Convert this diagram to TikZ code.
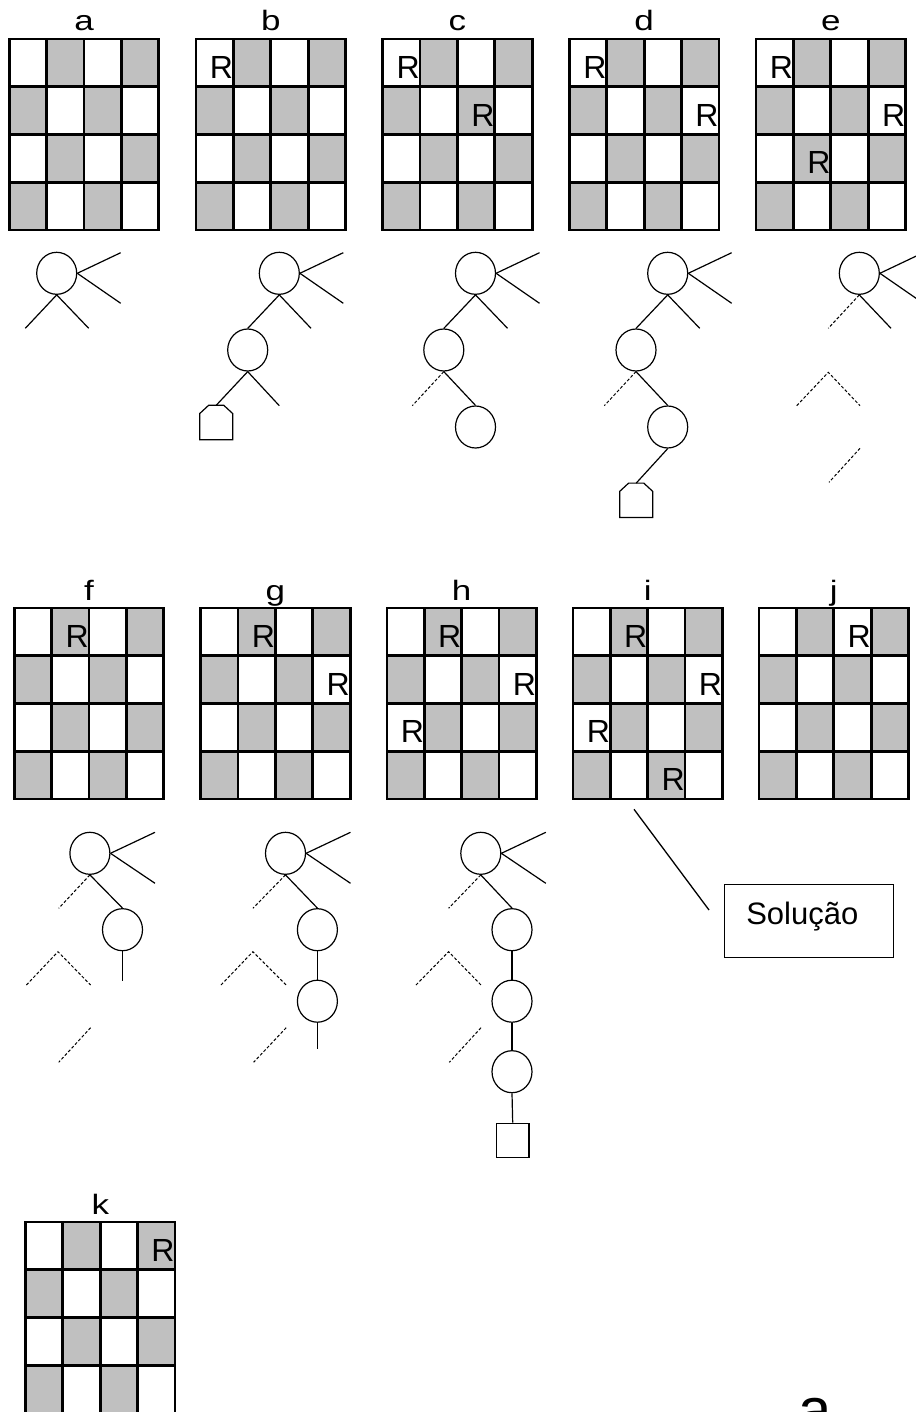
\documentclass[tikz,border=0pt]{standalone}
\usepackage{fontspec}
\setmainfont{Liberation Sans}
\usetikzlibrary{shapes.geometric}
\definecolor{cgray}{RGB}{192,192,192}
\tikzset{
  gridline/.style={line width=1.4pt,black},
  boardframe/.style={draw,line width=1.4pt,minimum width=74.75pt,minimum height=95.5pt,inner sep=0pt},
  boardlabel/.style={anchor=base,inner sep=0pt,font=\fontsize{14pt}{16pt}\selectfont},
  queen/.style={anchor=south east,inner sep=0pt,font=\fontsize{16pt}{18pt}\selectfont},
  tnode/.style={draw,ellipse,line width=0.6pt,minimum width=20pt,minimum height=21pt,inner sep=0pt},
  housebox/.style={rectangle,minimum width=16.15pt,minimum height=16.8pt,inner sep=0pt},
  houseline/.style={line width=0.6pt,line join=miter},
  leafbox/.style={draw,rectangle,line width=0.6pt,minimum width=16.3pt,minimum height=17pt,inner sep=0pt},
  edge/.style={line width=0.6pt},
  pruned/.style={line width=0.5pt,dash pattern=on 1.5pt off 1pt},
  solbox/.style={draw,rectangle,line width=0.65pt,minimum width=84.5pt,minimum height=36.5pt,inner sep=0pt},
}
\newcommand{\qboard}[4]{%
\begin{scope}[shift={(#2,#3)}]
  \foreach \c/\r in {1/0,3/0,0/1,2/1,1/2,3/2,0/3,2/3}
    \fill[cgray] (\c*37.375,\r*47.75) rectangle ++(37.375,47.75);
  \foreach \i in {1,2,3} {
    \draw[gridline] (\i*37.375,0) -- (\i*37.375,191);
    \draw[gridline] (0,\i*47.75) -- (149.5,\i*47.75);
  }
  \node[boardframe] (#1) at (74.75,95.5) {};
  \node[boardlabel] (#1-label) at (74.75,-8) {\scalebox{1.25}[1]{#4}};
\end{scope}}
\newcommand{\queens}[4]{%
\begin{scope}[shift={(#2,#3)}]
  \foreach \c/\r in {#4}
    \node[queen] (#1-q\c\r) at ({(\c+1)*37.375},{(\r+1)*47.75-8}) {R};
\end{scope}}
\newcommand{\housepath}[1]{%
  \draw[houseline] (#1.south west) -- (#1.south east)
    -- ([shift={(0,8.3)}]#1.north east) -- ([shift={(-9,0)}]#1.north east)
    -- ([shift={(9,0)}]#1.north west) -- ([shift={(0,8.3)}]#1.north west) -- cycle;}
\begin{document}
\begin{tikzpicture}[x=0.5pt,y=-0.5pt]
\useasboundingbox (0,0) rectangle (915,1412);
\fill[white] (0,0) rectangle (915,1412);
% ---------- row 1 boards
\qboard{ba}{9.3}{39}{a}
\qboard{bb}{196}{39}{b}
\queens{bb}{196}{39}{0/0}
\qboard{bc}{382.7}{39}{c}
\queens{bc}{382.7}{39}{0/0,2/1}
\qboard{bd}{569.4}{39}{d}
\queens{bd}{569.4}{39}{0/0,3/1}
\qboard{be}{756}{39}{e}
\queens{be}{756}{39}{0/0,3/1,1/2}
% ---------- row 2 boards
\qboard{bf}{14.3}{608}{f}
\queens{bf}{14.3}{608}{1/0}
\qboard{bg}{200.6}{608}{g}
\queens{bg}{200.6}{608}{1/0,3/1}
\qboard{bh}{386.9}{608}{h}
\queens{bh}{386.9}{608}{1/0,3/1,0/2}
\qboard{bi}{572.9}{608}{i}
\queens{bi}{572.9}{608}{1/0,3/1,0/2,2/3}
\qboard{bj}{759}{608}{j}
\queens{bj}{759}{608}{2/0}
% ---------- row 3 board
\qboard{bk}{25.5}{1222}{k}
\queens{bk}{25.5}{1222}{3/0}

% ---------- row 1 trees
% tree a
\node[tnode] (ta) at (56.7,273.3) {};
\coordinate (ta-e1) at (120.7,252.7);
\coordinate (ta-e2) at (120.7,303.3);
\coordinate (ta-sl) at (25.3,328.3);
\coordinate (ta-sr) at (88.7,328.3);
\draw[edge] (ta.east) -- (ta-e1);
\draw[edge] (ta.east) -- (ta-e2);
\draw[edge] (ta.south) -- (ta-sl);
\draw[edge] (ta.south) -- (ta-sr);
% tree b
\node[tnode] (tb) at (279.3,273.3) {};
\node[tnode] (tb1) at (247.7,350) {};
\node[housebox] (tbP) at (216.2,422.5) {};
\housepath{tbP}
\coordinate (tb-e1) at (343.3,252.7);
\coordinate (tb-e2) at (343.3,303.3);
\coordinate (tb-sr) at (311,328.3);
\coordinate (tb1-sr) at (279.3,405.7);
\draw[edge] (tb.east) -- (tb-e1);
\draw[edge] (tb.east) -- (tb-e2);
\draw[edge] (tb.south) -- (tb1.north);
\draw[edge] (tb.south) -- (tb-sr);
\draw[edge] (tb1.south) -- (tbP.north);
\draw[edge] (tb1.south) -- (tb1-sr);
% tree c
\node[tnode] (tc) at (475.5,273.3) {};
\node[tnode] (tc1) at (443.8,350) {};
\node[tnode] (tc2) at (475.5,427) {};
\coordinate (tc-e1) at (539.5,252.7);
\coordinate (tc-e2) at (539.5,303.3);
\coordinate (tc-sr) at (507.5,328.3);
\coordinate (tc1-sl) at (412.3,405.7);
\draw[edge] (tc.east) -- (tc-e1);
\draw[edge] (tc.east) -- (tc-e2);
\draw[edge] (tc.south) -- (tc1.north);
\draw[edge] (tc.south) -- (tc-sr);
\draw[pruned] (tc1.south) -- (tc1-sl);
\draw[edge] (tc1.south) -- (tc2.north);
% tree d
\node[tnode] (td) at (667.7,273.3) {};
\node[tnode] (td1) at (636,350) {};
\node[tnode] (td2) at (667.7,427) {};
\node[housebox] (tdP) at (636.2,500.3) {};
\housepath{tdP}
\coordinate (td-e1) at (731.7,252.7);
\coordinate (td-e2) at (731.7,303.3);
\coordinate (td-sr) at (699.7,328.3);
\coordinate (td1-sl) at (604.3,405.7);
\draw[edge] (td.east) -- (td-e1);
\draw[edge] (td.east) -- (td-e2);
\draw[edge] (td.south) -- (td1.north);
\draw[edge] (td.south) -- (td-sr);
\draw[pruned] (td1.south) -- (td1-sl);
\draw[edge] (td1.south) -- (td2.north);
\draw[edge] (td2.south) -- (tdP.north);
% tree e
\node[tnode] (te) at (859.3,273.3) {};
\coordinate (te-e1) at (923.3,252.7);
\coordinate (te-e2) at (923.3,303.3);
\coordinate (te-sl) at (828.3,328.3);
\coordinate (te-sr) at (891,328.3);
\coordinate (te-apex) at (828.3,372.3);
\coordinate (te-al) at (796.7,405.7);
\coordinate (te-ar) at (860,405.7);
\coordinate (te-s1) at (860,448.3);
\coordinate (te-s2) at (829,482.3);
\draw[edge] (te.east) -- (te-e1);
\draw[edge] (te.east) -- (te-e2);
\draw[pruned] (te.south) -- (te-sl);
\draw[edge] (te.south) -- (te-sr);
\draw[pruned] (te-al) -- (te-apex) -- (te-ar);
\draw[pruned] (te-s1) -- (te-s2);

% ---------- row 2 trees
% tree f
\node[tnode] (tf) at (89.9,853.3) {};
\node[tnode] (tf1) at (122.5,929.7) {};
\coordinate (tf-e1) at (155,832.3);
\coordinate (tf-e2) at (155,883.3);
\coordinate (tf-sl) at (58.7,908.3);
\coordinate (tf1-s) at (122.5,981);
\coordinate (tf-apex) at (58,951.7);
\coordinate (tf-al) at (26.4,985);
\coordinate (tf-ar) at (90.6,985);
\coordinate (tf-s1) at (90.6,1027.7);
\coordinate (tf-s2) at (58.7,1062.3);
\draw[edge] (tf.east) -- (tf-e1);
\draw[edge] (tf.east) -- (tf-e2);
\draw[pruned] (tf.south) -- (tf-sl);
\draw[edge] (tf.south) -- (tf1.north);
\draw[edge] (tf1.south) -- (tf1-s);
\draw[pruned] (tf-al) -- (tf-apex) -- (tf-ar);
\draw[pruned] (tf-s1) -- (tf-s2);
% tree g
\node[tnode] (tg) at (285.5,853.3) {};
\node[tnode] (tg1) at (317.4,929.7) {};
\node[tnode] (tg2) at (317.4,1001.2) {};
\coordinate (tg-e1) at (350.5,832.3);
\coordinate (tg-e2) at (350.5,883.3);
\coordinate (tg-sl) at (252.9,908.3);
\coordinate (tg2-s) at (317.4,1049.3);
\coordinate (tg-apex) at (252.9,951.7);
\coordinate (tg-al) at (221,985);
\coordinate (tg-ar) at (286.2,985);
\coordinate (tg-s1) at (286.2,1027.7);
\coordinate (tg-s2) at (253.6,1062.3);
\draw[edge] (tg.east) -- (tg-e1);
\draw[edge] (tg.east) -- (tg-e2);
\draw[pruned] (tg.south) -- (tg-sl);
\draw[edge] (tg.south) -- (tg1.north);
\draw[edge] (tg1.south) -- (tg2.north);
\draw[edge] (tg2.south) -- (tg2-s);
\draw[pruned] (tg-al) -- (tg-apex) -- (tg-ar);
\draw[pruned] (tg-s1) -- (tg-s2);
% tree h
\node[tnode] (th) at (480.8,853.3) {};
\node[tnode] (th1) at (512,929.7) {};
\node[tnode] (th2) at (512,1001.2) {};
\node[tnode] (th3) at (512,1071.7) {};
\node[leafbox] (thS) at (512.7,1140.3) {};
\coordinate (th-e1) at (545.8,832.3);
\coordinate (th-e2) at (545.8,883.3);
\coordinate (th-sl) at (448.6,908.3);
\coordinate (th-apex) at (448.6,951.7);
\coordinate (th-al) at (416,985);
\coordinate (th-ar) at (481,985);
\coordinate (th-s1) at (481,1027.7);
\coordinate (th-s2) at (449.3,1062.3);
\draw[edge] (th.east) -- (th-e1);
\draw[edge] (th.east) -- (th-e2);
\draw[pruned] (th.south) -- (th-sl);
\draw[edge] (th.south) -- (th1.north);
\draw[edge] (th1.south) -- (th2.north);
\draw[edge] (th2.south) -- (th3.north);
\draw[edge] (th3.south) -- (thS.north);
\draw[pruned] (th-al) -- (th-apex) -- (th-ar);
\draw[pruned] (th-s1) -- (th-s2);

% ---------- solution callout
\node[solbox] (sol) at (808.8,920.8) {};
\node[anchor=base,inner sep=0pt,font=\fontsize{15.5pt}{18pt}\selectfont] (soltext) at (802.3,924) {Solução};
\coordinate (solA) at (634,809.3);
\coordinate (solB) at (709,910);
\draw[line width=0.65pt] (solA) -- (solB);

% ---------- cut-off letter at bottom right
\node[anchor=base west,inner sep=0pt,font=\fontsize{30pt}{34pt}\selectfont] (bigA) at (798,1430) {a};
\end{tikzpicture}
\end{document}
